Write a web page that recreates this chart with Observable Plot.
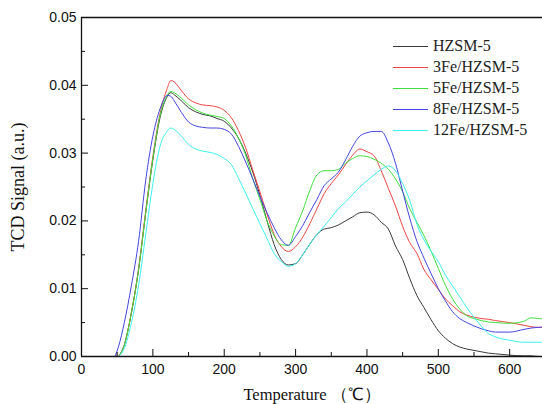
<!DOCTYPE html>
<html><head><meta charset="utf-8">
<script src="https://cdn.jsdelivr.net/npm/d3@7"></script>
<script src="https://cdn.jsdelivr.net/npm/@observablehq/plot@0.6"></script>
<style>
html,body{margin:0;padding:0;background:#fff;}
#wrap{position:relative;width:542px;height:404px;overflow:hidden;background:#fff;}
#legend{position:absolute;left:393px;top:35.5px;font-family:"Liberation Serif","Times New Roman",serif;font-size:16px;color:#222;}
.row{display:flex;align-items:center;height:21px;white-space:nowrap;}
.sw{display:block;width:35px;height:1px;margin-right:5px;}
</style></head><body><div id="wrap"><div id="legend"></div></div>
<script>
const temperature = [47,52,60,70,80,90,100,110,120,125,
 130,140,150,160,170,180,190,200,210,220,
 230,240,250,260,270,280,290,300,310,320,
 330,340,350,360,370,380,390,400,410,420,
 430,440,450,460,470,480,490,500,510,520,
 530,540,550,560,570,580,600,620,630,640,
 650];
const seriesNames = ["HZSM-5","3Fe/HZSM-5","5Fe/HZSM-5","8Fe/HZSM-5","12Fe/HZSM-5"];
const seriesColors = ["#3a3a3a","#f04545","#3ee03e","#4545e0","#3cf0f0"];
const hzsm5 = [null,0,0.0017,0.0065,0.0128,0.0212,0.029,0.0352,0.0383,0.0389,
 0.0386,0.0377,0.0367,0.0361,0.0357,0.0355,0.0351,0.0347,0.0337,0.0322,
 0.03,0.0272,0.0238,0.02,0.0165,0.0143,0.0135,0.0137,0.015,0.0166,
 0.018,0.0188,0.019,0.0194,0.02,0.0206,0.0212,0.0213,0.0209,0.0198,
 0.0188,0.0163,0.0143,0.0115,0.009,0.0072,0.0054,0.0038,0.0027,0.0019,
 0.0014,0.0011,0.0009,0.0007,0.0005,0.0004,0.0002,0.0001,0.0001,0,
 0];
const fe3 = [null,0,0.0017,0.0065,0.013,0.0215,0.0295,0.0358,0.0395,0.0407,
 0.0405,0.0392,0.038,0.0374,0.0371,0.037,0.0368,0.0363,0.0352,0.0333,
 0.0308,0.0275,0.0243,0.021,0.018,0.0162,0.0155,0.0162,0.0176,0.0196,
 0.0218,0.024,0.0255,0.0268,0.0283,0.0297,0.0306,0.0302,0.0296,0.0274,
 0.0248,0.0222,0.0192,0.0168,0.0152,0.0128,0.0113,0.0099,0.0085,0.0075,
 0.0066,0.0061,0.0058,0.0056,0.0055,0.0053,0.005,0.0046,0.0044,0.0043,
 0.0043];
const fe5 = [null,0,0.0017,0.0065,0.0128,0.0212,0.0292,0.0355,0.0385,0.0391,
 0.0389,0.0381,0.0371,0.0364,0.0359,0.0356,0.0354,0.0351,0.034,0.0322,
 0.0297,0.0262,0.0232,0.02,0.0178,0.0165,0.0164,0.019,0.0215,0.0245,
 0.0268,0.0274,0.0274,0.0276,0.0285,0.0292,0.0296,0.0295,0.0291,0.0285,
 0.0276,0.0262,0.0243,0.0218,0.0198,0.0178,0.0155,0.013,0.0105,0.0085,
 0.007,0.006,0.0056,0.0053,0.0051,0.005,0.0049,0.0052,0.0057,0.0056,
 0.0055];
const fe8 = [0,0.0015,0.005,0.0105,0.017,0.026,0.0325,0.0365,0.0385,0.0384,
 0.0377,0.036,0.0346,0.034,0.0338,0.0337,0.0337,0.0335,0.0328,0.031,
 0.0287,0.0262,0.0236,0.0212,0.019,0.0172,0.0164,0.0177,0.0193,0.0213,
 0.0232,0.0252,0.0262,0.0272,0.029,0.031,0.0325,0.033,0.0332,0.0332,
 0.0315,0.0285,0.0244,0.0204,0.017,0.0145,0.0122,0.01,0.0082,0.0066,
 0.0056,0.005,0.0045,0.0041,0.0038,0.0036,0.0036,0.004,0.0042,0.0043,
 0.0044];
const fe12 = [null,0,0.0012,0.005,0.0105,0.018,0.0255,0.031,0.0332,0.0337,
 0.0335,0.0325,0.0313,0.0306,0.0303,0.0301,0.0298,0.0292,0.0283,0.0263,
 0.0241,0.0218,0.0196,0.0174,0.0152,0.014,0.0133,0.0137,0.015,0.0166,
 0.018,0.0192,0.0205,0.0218,0.0228,0.0239,0.025,0.0259,0.0268,0.0276,
 0.0281,0.0274,0.0255,0.023,0.0195,0.0172,0.0155,0.014,0.012,0.0104,
 0.0088,0.0072,0.0058,0.0045,0.0034,0.0029,0.0024,0.0021,0.0021,0.0021,
 0.0021];
const yTicks = [0,0.01,0.02,0.03,0.04,0.05];
const yMinor = [0.005,0.015,0.025,0.035,0.045];
const xTicks = [0,100,200,300,400,500,600];
const xMinor = [50,150,250,350,450,550];
const xTitle = "Temperature （℃）";
const yTitle = "TCD Signal (a.u.)";

const allSeries = [hzsm5, fe3, fe5, fe8, fe12];
const rows = [];
allSeries.forEach((vals, s) => vals.forEach((v, i) => {
  if (v != null) rows.push({T: temperature[i], v, s: seriesNames[s]});
}));

const sans = "'Liberation Sans', Arial, sans-serif";
const serif = "'Liberation Serif', 'Times New Roman', serif";

const chart = Plot.plot({
  width: 542, height: 404,
  marginLeft: 81, marginRight: 0, marginTop: 17, marginBottom: 48,
  style: {background: "#fff", color: "#111"},
  x: {domain: [0, 646]},
  y: {domain: [0, 0.05]},
  color: {domain: seriesNames, range: seriesColors},
  marks: [
    Plot.line(rows, {x: "T", y: "v", z: "s", stroke: "s", strokeWidth: 1, curve: "monotone-x"}),
    Plot.ruleX([xTicks[0]], {stroke: "#111", strokeWidth: 1.3}),
    Plot.ruleY([yTicks[0], yTicks[yTicks.length - 1]], {stroke: "#111", strokeWidth: 1.3}),
    Plot.axisY(yTicks, {tickSize: -7, tickPadding: 12, tickFormat: ".2f", fontSize: 14, fontFamily: sans, label: null, stroke: "#111"}),
    Plot.axisY(yMinor, {tickSize: -4, tickFormat: () => "", label: null, stroke: "#111"}),
    Plot.axisY([], {label: yTitle, labelAnchor: "center", labelOffset: 70, labelArrow: "none", fontSize: 18, fontFamily: serif}),
    Plot.axisX(xTicks, {tickSize: -7, tickPadding: 15, fontSize: 14, fontFamily: sans, label: null, stroke: "#111"}),
    Plot.axisX(xMinor, {tickSize: -4, tickFormat: () => "", label: null, stroke: "#111"}),
    Plot.axisX([], {label: xTitle, labelAnchor: "center", labelOffset: 43, labelArrow: "none", fontSize: 16.5, fontFamily: serif})
  ]
});
document.getElementById("wrap").prepend(chart);

const legend = document.getElementById("legend");
seriesNames.forEach((name, i) => {
  const row = document.createElement("div");
  row.className = "row";
  const sw = document.createElement("span");
  sw.className = "sw";
  sw.style.backgroundColor = seriesColors[i];
  const t = document.createElement("span");
  t.textContent = name;
  row.append(sw, t);
  legend.append(row);
});
</script>
</body></html>
